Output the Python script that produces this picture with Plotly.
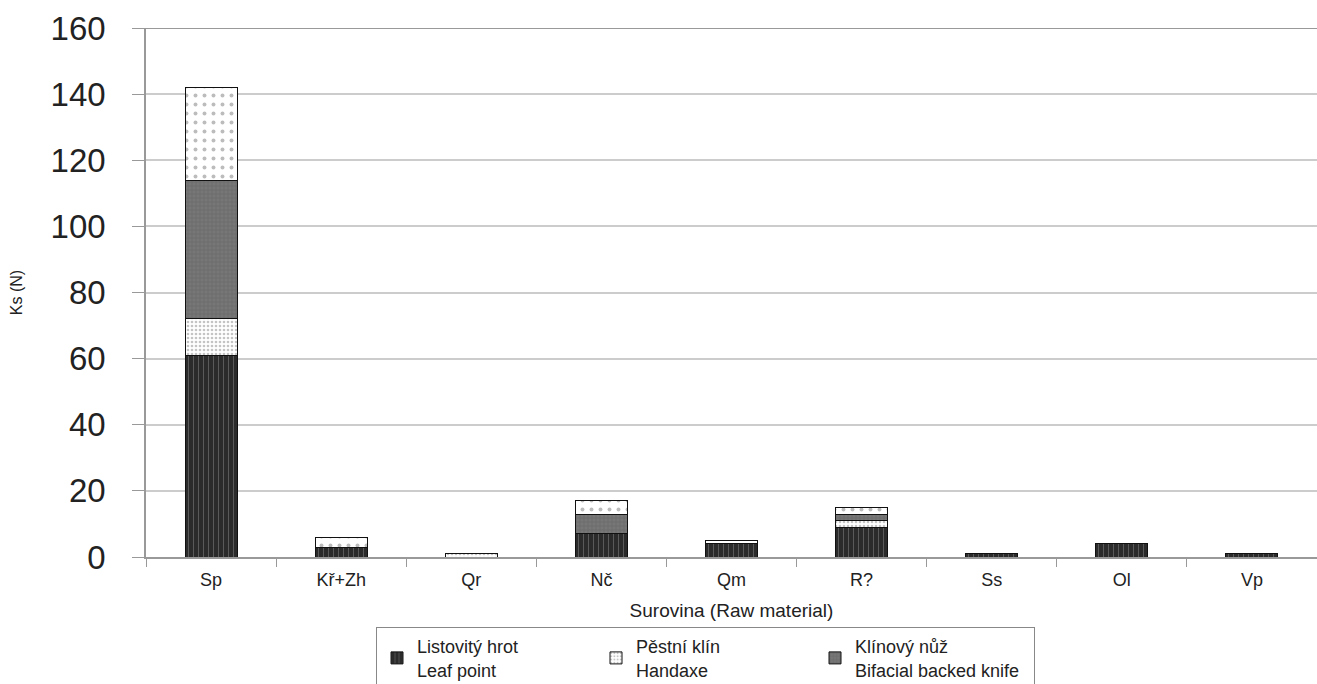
import plotly.graph_objects as go

categories = ["Sp", "Kř+Zh", "Qr", "Nč", "Qm", "R?", "Ss", "Ol", "Vp"]
leaf_point = [61, 3, 0, 7, 4, 9, 1, 4, 1]
handaxe = [11, 0, 1, 0, 0, 2, 0, 0, 0]
backed_knife = [42, 0, 0, 6, 0, 2, 0, 0, 0]
other = [28, 3, 0, 4, 1, 2, 0, 0, 0]

series = [
    ("Listovitý hrot<br>Leaf point", leaf_point,
     dict(shape="|", bgcolor="#2b2b2b", fgcolor="#8a8a8a", size=5, solidity=0.2), True),
    ("Pěstní klín<br>Handaxe", handaxe,
     dict(shape=".", bgcolor="#ffffff", fgcolor="#8a8a8a", size=4, solidity=0.35), True),
    ("Klínový nůž<br>Bifacial backed knife", backed_knife,
     dict(shape="+", bgcolor="#777777", fgcolor="#4a4a4a", size=4, solidity=0.2), True),
    ("", other,
     dict(shape=".", bgcolor="#ffffff", fgcolor="#7a7a7a", size=9, solidity=0.15), False),
]

fig = go.Figure()
for name, vals, pat, show in series:
    fig.add_trace(go.Bar(
        x=categories, y=vals, name=name, showlegend=show,
        marker=dict(color=pat["bgcolor"], pattern=pat,
                    line=dict(color="#111111", width=1)),
        width=0.4,
    ))

fig.update_layout(
    barmode="stack",
    width=1317, height=684,
    margin=dict(l=146, r=0, t=28, b=127, autoexpand=False),
    paper_bgcolor="white", plot_bgcolor="white",
    font=dict(family="Liberation Sans, Arial, sans-serif", color="#222222"),
    showlegend=True,
    legend=dict(
        orientation="h", x=(376 - 146) / 1171, y=-70 / 529, xanchor="left", yanchor="top",
        bordercolor="#888888", borderwidth=1, bgcolor="white",
        font=dict(size=18, color="#222222"),
        traceorder="normal", itemwidth=30, entrywidth=174,
    ),
    bargap=0.6,
)
fig.update_yaxes(
    range=[0, 160], dtick=20,
    tickfont=dict(size=33, color="#222222"),
    ticks="outside", ticklen=12, tickcolor="#999999",
    ticklabelstandoff=20,
    showline=True, linecolor="#999999", linewidth=1.5,
    showgrid=True, gridcolor="#cccccc", gridwidth=1.5,
    zeroline=False,
    title=dict(text="Ks (N)", font=dict(size=16, color="#222222"), standoff=24),
)
fig.update_xaxes(
    range=[-0.5, 8.5],
    tickfont=dict(size=18, color="#222222"),
    ticks="outside", tickson="boundaries", ticklen=8, tickcolor="#999999",
    ticklabelstandoff=6,
    showline=True, linecolor="#999999", linewidth=1.5,
    showgrid=False,
    title=dict(text="Surovina (Raw material)", font=dict(size=19, color="#222222"), standoff=14),
)
fig.add_shape(type="line", xref="paper", yref="y", x0=0, x1=1, y0=160, y1=160,
              line=dict(color="#999999", width=2))

fig.write_html(
    "out.html",
    config={"displayModeBar": False},
    post_script="document.body.style.margin='0px';document.body.style.overflow='hidden';",
)
